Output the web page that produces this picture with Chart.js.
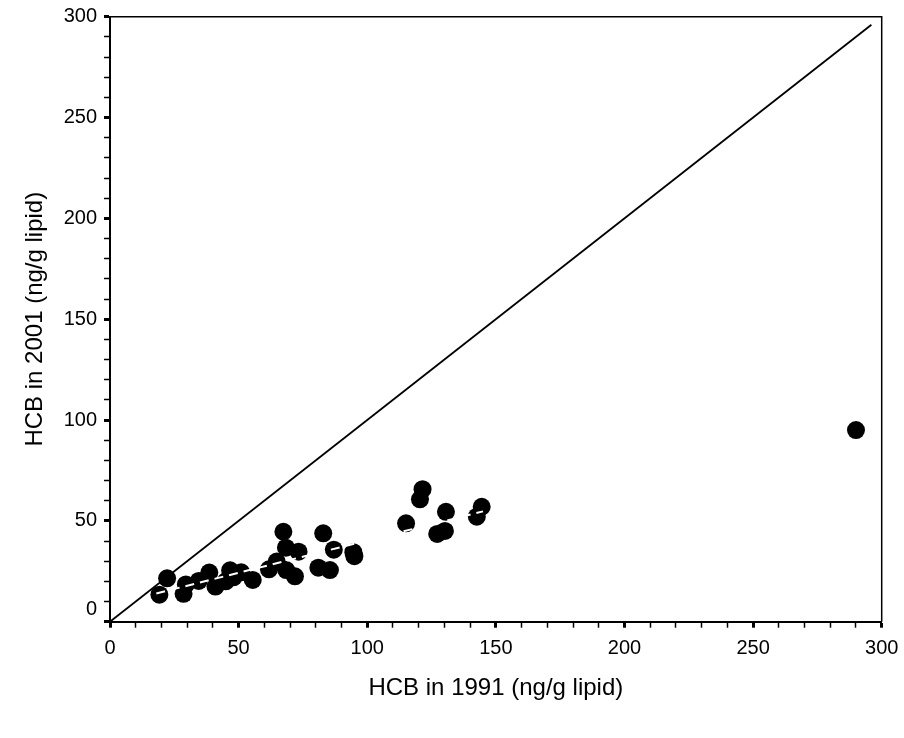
<!DOCTYPE html>
<html>
<head>
<meta charset="utf-8">
<script src="https://cdn.jsdelivr.net/npm/chart.js@4/dist/chart.umd.min.js"></script>
<style>
html,body{margin:0;padding:0;background:#fff;}
canvas{display:block;}
</style>
</head>
<body>
<canvas id="c" width="904" height="738"></canvas>
<script>
// HCB concentrations (ng/g lipid): x = 1991, y = 2001
const hcb1991 = [19.2, 22.2, 28.6, 29.5, 34.5, 38.6, 41.0, 45.0, 48.0, 46.7, 51.0, 55.5,
  61.8, 64.8, 67.4, 68.4, 68.5, 73.3, 71.9, 81.0, 82.9, 85.5, 87.0, 94.6, 95.0,
  115.1, 120.5, 121.5, 127.2, 130.2, 130.6, 142.6, 144.5, 290.0];
const hcb2001 = [13.4, 21.5, 13.8, 18.5, 20.2, 24.4, 17.4, 20.0, 22.0, 25.5, 24.5, 20.7,
  26.0, 29.8, 44.6, 36.7, 25.6, 34.7, 22.5, 26.8, 43.8, 25.6, 35.7, 34.5, 32.5,
  48.8, 60.7, 65.7, 43.5, 45.0, 54.5, 52.1, 57.0, 95.0];
// regression line (white dashed) end points
const fitX = [18, 145];
const fitY = [14.0, 54.7];
// 1:1 line end points
const identityX = [0, 296];
const identityY = [0, 296];
// axis tick labels
const majorTicks = [0, 50, 100, 150, 200, 250, 300];
const axisMin = 0, axisMax = 300, minorStep = 10;

const toPts = (xs, ys) => xs.map((x, i) => ({x: x, y: ys[i]}));

const frame = {
  id: 'frame',
  afterDatasetsDraw(chart) {
    const {ctx, chartArea: a} = chart;
    ctx.save();
    ctx.strokeStyle = '#000';
    ctx.lineWidth = 1.5;
    ctx.beginPath();
    ctx.moveTo(a.left, a.top);
    ctx.lineTo(a.right, a.top);
    ctx.lineTo(a.right, a.bottom);
    ctx.stroke();
    ctx.restore();
  }
};

const tickFont = {family: 'Liberation Sans, Arial, sans-serif', size: 20};
const titleFont = {family: 'Liberation Sans, Arial, sans-serif', size: 24};

const isMajor = v => majorTicks.includes(v);

new Chart(document.getElementById('c'), {
  type: 'scatter',
  data: {
    datasets: [
      {
        type: 'line',
        data: toPts(fitX, fitY),
        borderColor: '#fff',
        borderWidth: 2,
        borderDash: [9, 6],
        pointRadius: 0,
        fill: false,
        order: 0
      },
      {
        data: toPts(hcb1991, hcb2001),
        backgroundColor: '#000',
        borderColor: '#000',
        borderWidth: 0,
        pointRadius: 9,
        pointHoverRadius: 9,
        order: 1
      },
      {
        type: 'line',
        data: toPts(identityX, identityY),
        borderColor: '#000',
        borderWidth: 1.8,
        pointRadius: 0,
        fill: false,
        order: 2
      }
    ]
  },
  options: {
    responsive: false,
    animation: false,
    devicePixelRatio: 1,
    layout: {padding: {top: 16.7, right: 22.3, bottom: 0, left: 0}},
    plugins: {legend: {display: false}, tooltip: {enabled: false}},
    scales: {
      x: {
        type: 'linear',
        min: axisMin, max: axisMax,
        afterFit(s) { s.height = 738 - 621.7; s.paddingLeft = 0; s.paddingRight = 0; },
        ticks: {
          stepSize: minorStep,
          autoSkip: false,
          maxRotation: 0,
          padding: 9,
          color: '#000',
          font: tickFont,
          callback: v => isMajor(v) ? String(v) : ''
        },
        grid: {
          drawOnChartArea: false,
          drawTicks: true,
          tickLength: 6,
          tickColor: '#000',
          tickWidth: ctx => isMajor(ctx.tick && ctx.tick.value) ? 3 : 1.5
        },
        border: {display: true, color: '#000', width: 2},
        title: {
          display: true,
          text: 'HCB in 1991 (ng/g lipid)',
          color: '#000',
          font: titleFont,
          padding: {top: 0, bottom: 35.6}
        }
      },
      y: {
        type: 'linear',
        min: axisMin, max: axisMax,
        afterFit(s) { s.width = 110; s.paddingTop = 0; s.paddingBottom = 0; },
        ticks: {
          stepSize: minorStep,
          autoSkip: false,
          padding: 7,
          color: '#000',
          font: tickFont,
          callback: v => v === 0 ? ['0', ''] : (isMajor(v) ? String(v) : '')
        },
        grid: {
          drawOnChartArea: false,
          drawTicks: true,
          tickLength: 6,
          tickColor: '#000',
          tickWidth: ctx => isMajor(ctx.tick && ctx.tick.value) ? 3 : 1.5
        },
        border: {display: true, color: '#000', width: 2},
        title: {
          display: true,
          text: 'HCB in 2001 (ng/g lipid)',
          color: '#000',
          font: titleFont,
          padding: {top: 21, bottom: 0}
        }
      }
    }
  },
  plugins: [frame]
});
</script>
</body>
</html>
